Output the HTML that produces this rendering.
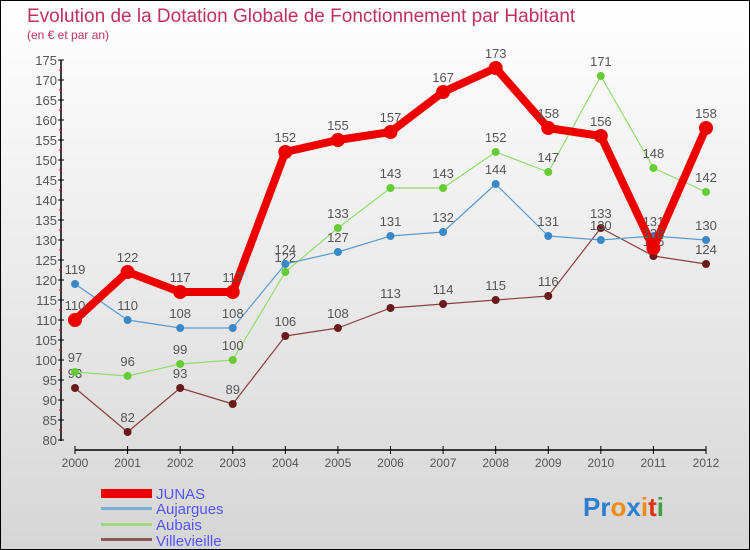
<!DOCTYPE html>
<html><head><meta charset="utf-8"><style>
body{margin:0}
#c{width:748px;height:548px;border:1px solid #000;background:linear-gradient(#fff,#d6d6d6);position:relative;font-family:"Liberation Sans",sans-serif;overflow:hidden}
</style></head><body>
<div id="c">
<svg id="s" width="748" height="548" xmlns="http://www.w3.org/2000/svg" font-family="Liberation Sans, sans-serif">
<text x="26" y="21" font-size="19" fill="#c0305a">Evolution de la Dotation Globale de Fonctionnement par Habitant</text>
<text x="26" y="38" font-size="12" fill="#c0305a">(en € et par an)</text>
<g id="axes"></g><g id="series"></g>
<g>
<rect x="100" y="488" width="51" height="9" fill="#e00"/>
<text x="155" y="498" font-size="15" fill="#55f">JUNAS</text>
<rect x="100" y="506" width="51" height="3" fill="#7ab0d8"/>
<text x="155" y="513" font-size="15" fill="#55f">Aujargues</text>
<rect x="100" y="522" width="51" height="3" fill="#9fd880"/>
<text x="155" y="529" font-size="15" fill="#55f">Aubais</text>
<rect x="100" y="537" width="51" height="3" fill="#8b5555"/>
<text x="155" y="545" font-size="15" fill="#55f">Villevieille</text>
</g>
<g font-size="26" font-weight="bold">
<text x="582" y="515"><tspan fill="#2a7fd0">Pr</tspan><tspan fill="#f08a10">o</tspan><tspan fill="#2a7fd0">x</tspan><tspan fill="#f08a10">i</tspan><tspan fill="#e03010">t</tspan><tspan fill="#40a040">i</tspan></text>
</g>
</svg></div>
<script>
const years=[2000,2001,2002,2003,2004,2005,2006,2007,2008,2009,2010,2011,2012];
const yTicks=[80,85,90,95,100,105,110,115,120,125,130,135,140,145,150,155,160,165,170,175];
const junas=[110,122,117,117,152,155,157,167,173,158,156,128,158];
const aujargues=[119,110,108,108,124,127,131,132,144,131,130,131,130];
const aubais=[97,96,99,100,122,133,143,143,152,147,171,148,142];
const villevieille=[93,82,93,89,106,108,113,114,115,116,133,126,124];
const NS="http://www.w3.org/2000/svg";
const X=i=>74+i*(705-74)/(years.length-1);
const Y=v=>439-(v-80)*4;
function mk(t,a,p){const e=document.createElementNS(NS,t);for(const k in a)e.setAttribute(k,a[k]);p.appendChild(e);return e;}
const ax=document.getElementById('axes');
const yl=mk('line',{x1:60,y1:Y(175),x2:60,y2:440,stroke:'#000','stroke-width':1.5},ax);


const xl=mk('line',{x1:74,y1:449,x2:705,y2:449,stroke:'#000','stroke-width':1.5},ax);


yTicks.forEach((v,k)=>{
 mk('line',{x1:57,y1:Y(v),x2:63,y2:Y(v),stroke:'#000'},ax);
 if(k>0) mk('line',{x1:58,y1:Y(v)+10,x2:61,y2:Y(v)+10,stroke:'#e00'},ax);
 const t=mk('text',{x:56,y:Y(v)+5,'font-size':13,fill:'#555','text-anchor':'end'},ax);t.textContent=v;
 
 
});
years.forEach((y,i)=>{
 mk('line',{x1:X(i),y1:445,x2:X(i),y2:453,stroke:'#000'},ax);
 const t=mk('text',{x:X(i),y:466,'font-size':12,fill:'#555','text-anchor':'middle'},ax);t.textContent=y;
 
 
});
const sg=document.getElementById('series');
function series(d,name,col,w,r,dot){
 const g=mk('g',{},sg);
 
 
 mk('polyline',{points:d.map((v,i)=>X(i)+','+Y(v)).join(' '),fill:'none',stroke:col,'stroke-width':w,'stroke-linejoin':'round'},g);
 d.forEach((v,i)=>{
  const c=mk('circle',{cx:X(i),cy:Y(v),r:r,fill:dot},g);
  
  
  const t=mk('text',{x:X(i),y:Y(v)-10,'font-size':13,fill:'#555','text-anchor':'middle'},g);t.textContent=v;
  
  
 });
}
series(villevieille,'villevieille','#8b4040',1.2,4,'#6a1a1a');
series(aubais,'aubais','#90dd70',1.2,4,'#66cc33');
series(aujargues,'aujargues','#5a9ad0',1.2,4,'#3a88c8');
series(junas,'junas','#ee0000',8,7,'#ee0000');
</script>
</body></html>
